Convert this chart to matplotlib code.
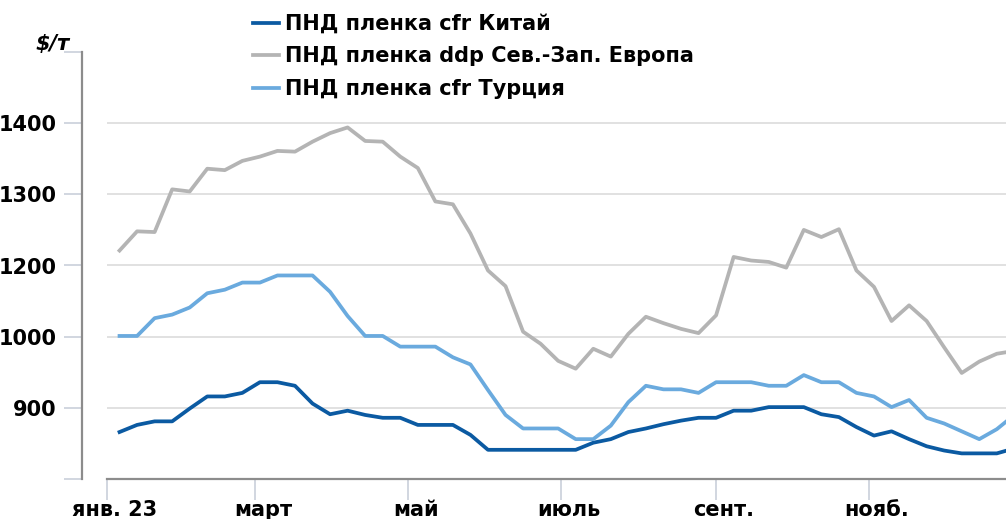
import matplotlib.pyplot as plt
import matplotlib.transforms as mtransforms
import pandas as pd

# weekly prices, $/t (first week ending 6 Jan 2023)
weeks = pd.date_range("2023-01-06", periods=52, freq="7D")

china = [966, 976, 981, 981, 999, 1016, 1016, 1021, 1036, 1036, 1031, 1006, 991,
         996, 990, 986, 986, 976, 976, 976, 962, 941, 941, 941, 941, 941, 941,
         951, 956, 966, 971, 977, 982, 986, 986, 996, 996, 1001, 1001, 1001,
         991, 987, 973, 961, 967, 956, 946, 940, 936, 936, 936, 943]
europe = [1221, 1248, 1247, 1307, 1304, 1336, 1334, 1347, 1353, 1361, 1360, 1374,
          1386, 1394, 1375, 1374, 1353, 1337, 1290, 1286, 1245, 1193, 1171, 1107,
          1090, 1066, 1055, 1083, 1072, 1104, 1128, 1119, 1111, 1105, 1130, 1212,
          1207, 1205, 1197, 1250, 1240, 1251, 1193, 1170, 1122, 1144, 1122, 1085,
          1049, 1065, 1076, 1080]
turkey = [1101, 1101, 1126, 1131, 1141, 1161, 1166, 1176, 1176, 1186, 1186, 1186,
          1163, 1129, 1101, 1101, 1086, 1086, 1086, 1071, 1061, 1025, 990, 971,
          971, 971, 956, 956, 975, 1008, 1031, 1026, 1026, 1021, 1036, 1036, 1036,
          1031, 1031, 1046, 1036, 1036, 1021, 1016, 1001, 1011, 986, 978, 967, 956,
          970, 990]

labels = ["ПНД пленка cfr Китай", "ПНД пленка ddp Сев.-Зап. Европа", "ПНД пленка cfr Турция"]
colors = ["#0b5aa2", "#b4b4b4", "#6aaade"]

month_ticks = pd.to_datetime(["2023-01-01", "2023-03-01", "2023-05-01",
                              "2023-07-01", "2023-09-01", "2023-11-01"])
month_labels = ["янв. 23", "март", "май", "июль", "сент.", "нояб."]

y_ticks = [900, 1000, 1100, 1200, 1300, 1400, 1500]
y_labels = ["", "900", "1000", "1200", "1300", "1400", ""]
grid_vals = [1000, 1100, 1200, 1300, 1400]

plt.rcParams["font.family"] = ["DejaVu Sans"]

fig = plt.figure(figsize=(10.06, 5.19), dpi=100)
ax = fig.add_axes([107 / 1006, 40 / 519, 1 - 107 / 1006, 427 / 519])

# spines first: set_position resets the ticks
for s in ["top", "right"]:
    ax.spines[s].set_visible(False)
ax.spines["left"].set_position(("outward", 18))
ax.spines["left"].set_color("#8c8c8c")
ax.spines["left"].set_linewidth(1.6)
ax.spines["bottom"].set_color("#8c8c8c")
ax.spines["bottom"].set_linewidth(1.6)

for g in grid_vals:
    ax.axhline(g, color="#dcdcdc", lw=1.2, zorder=1)

handles = []
for vals, lab, col in zip([china, europe, turkey], labels, colors):
    h, = ax.plot(weeks, vals, color=col, lw=2.7, label=lab, zorder=3,
                 solid_joinstyle="round")
    handles.append(h)

ax.set_xlim(pd.Timestamp("2023-01-01"), pd.Timestamp("2023-12-25 16:00"))
ax.set_ylim(900, 1500)

ax.set_xticks(month_ticks)
ax.set_xticklabels(month_labels, fontsize=15, fontweight="bold")
ax.set_yticks(y_ticks)
ax.set_yticklabels(y_labels, fontsize=15, fontweight="bold")

ax.tick_params(axis="x", length=15, width=1.2, color="#c9d0da", pad=0)
ax.tick_params(axis="y", length=13, width=1.2, color="#c9d0da", pad=5)

# shift month labels slightly right like the original
offset = mtransforms.ScaledTranslation(8 / 100, 0, fig.dpi_scale_trans)
for t in ax.get_xticklabels():
    t.set_transform(t.get_transform() + offset)

fig.text(70 / 1006, 1 - 44 / 519, "$/т", ha="right", va="center",
         fontsize=15, fontweight="bold", fontstyle="italic")

leg = ax.legend(handles=handles, loc="upper left",
                bbox_to_anchor=(253 / 1006, 1 - 14 / 519),
                bbox_transform=fig.transFigure, frameon=False,
                prop={"size": 15, "weight": "bold"},
                handlelength=1.25, handletextpad=0.3, labelspacing=0.6,
                borderpad=0, borderaxespad=0)

fig.savefig("out.png", dpi=100)
